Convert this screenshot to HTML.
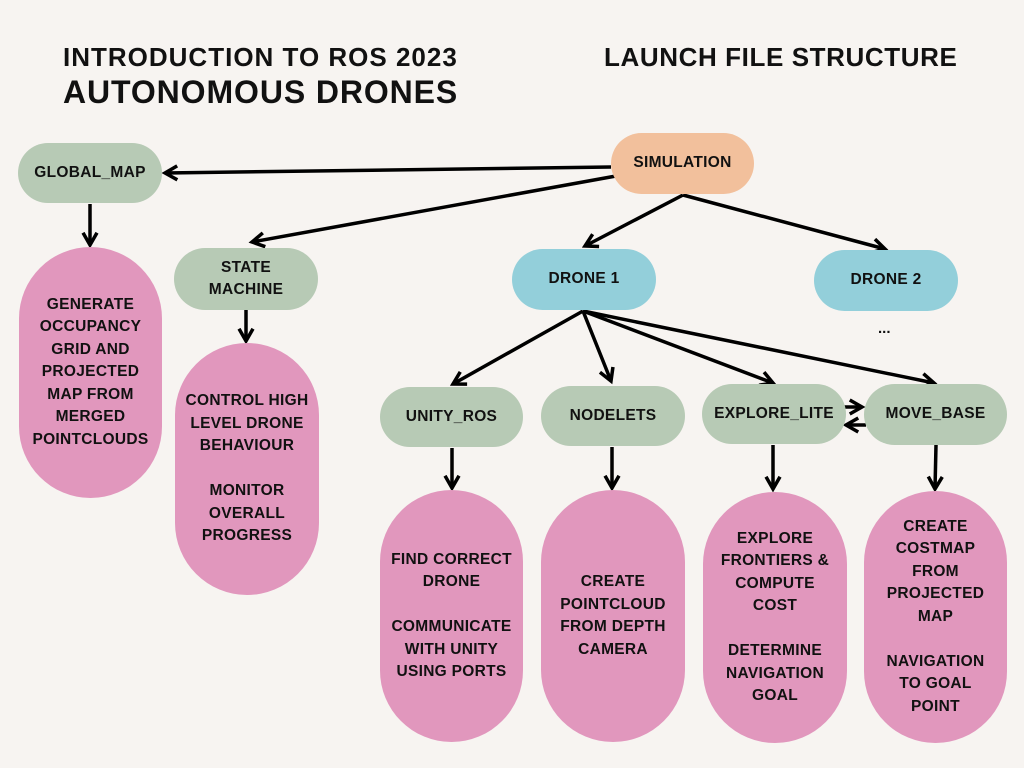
<!DOCTYPE html><html><head><style>
body{margin:0;width:1024px;height:768px;background:#f7f4f1;position:relative;overflow:hidden;font-family:"Liberation Sans",sans-serif;}
.n{position:absolute;display:flex;align-items:center;justify-content:center;text-align:center;font-weight:bold;font-size:15.5px;letter-spacing:0.3px;color:#111;line-height:22.5px;}
.g{background:#b7cab5;border-radius:31px;}
.p{background:#e197bd;border-radius:72px;}
.t{position:absolute;font-weight:bold;color:#111;white-space:nowrap;}
</style></head><body>
<div class="t" style="left:63px;top:42px;font-size:26px;letter-spacing:1px">INTRODUCTION TO ROS 2023</div>
<div class="t" style="left:63px;top:74px;font-size:32px;letter-spacing:0.9px">AUTONOMOUS DRONES</div>
<div class="t" style="left:604px;top:42px;font-size:26px;letter-spacing:0.6px">LAUNCH FILE STRUCTURE</div>
<svg width="1024" height="768" style="position:absolute;left:0;top:0">
<defs><marker id="a" viewBox="0 0 10 10" refX="8" refY="5" markerWidth="5" markerHeight="5" orient="auto"><path d="M1,1 L8,5 L1,9" fill="none" stroke="#000" stroke-width="2"/></marker></defs>
<g stroke="#000" stroke-width="3.5" fill="none" marker-end="url(#a)">
<line x1="611" y1="167" x2="165" y2="173"/>
<line x1="616" y1="176" x2="252" y2="242"/>
<line x1="683" y1="195" x2="585" y2="246"/>
<line x1="683" y1="195" x2="885" y2="249"/>
<line x1="583" y1="311" x2="453" y2="384"/>
<line x1="583" y1="311" x2="611" y2="381"/>
<line x1="583" y1="311" x2="773" y2="383"/>
<line x1="583" y1="311" x2="934" y2="383"/>
<line x1="90" y1="204" x2="90" y2="245"/>
<line x1="246" y1="310" x2="246" y2="341"/>
<line x1="452" y1="448" x2="452" y2="488"/>
<line x1="612" y1="447" x2="612" y2="488"/>
<line x1="773" y1="445" x2="773" y2="489"/>
<line x1="936" y1="445" x2="935" y2="489"/>
<line x1="844" y1="407" x2="862" y2="407"/>
<line x1="866" y1="425" x2="846" y2="425"/>
</g></svg>
<div class="n g" style="left:18px;top:143px;width:144px;height:60px">GLOBAL_MAP</div>
<div class="n" style="left:611px;top:133px;width:143px;height:61px;background:#f2c09c;border-radius:31px">SIMULATION</div>
<div class="n g" style="left:174px;top:248px;width:144px;height:62px">STATE<br>MACHINE</div>
<div class="n" style="left:512px;top:249px;width:144px;height:61px;background:#93cfda;border-radius:31px">DRONE 1</div>
<div class="n" style="left:814px;top:250px;width:144px;height:61px;background:#93cfda;border-radius:31px">DRONE 2</div>
<div class="t" style="left:878px;top:320px;font-size:15px">...</div>
<div class="n g" style="left:380px;top:387px;width:143px;height:60px">UNITY_ROS</div>
<div class="n g" style="left:541px;top:386px;width:144px;height:60px">NODELETS</div>
<div class="n g" style="left:702px;top:384px;width:144px;height:60px">EXPLORE_LITE</div>
<div class="n g" style="left:864px;top:384px;width:143px;height:61px">MOVE_BASE</div>
<div class="n p" style="left:19px;top:247px;width:143px;height:251px">GENERATE<br>OCCUPANCY<br>GRID AND<br>PROJECTED<br>MAP FROM<br>MERGED<br>POINTCLOUDS</div>
<div class="n p" style="left:175px;top:343px;width:144px;height:252px">CONTROL HIGH<br>LEVEL DRONE<br>BEHAVIOUR<br><br>MONITOR<br>OVERALL<br>PROGRESS</div>
<div class="n p" style="left:380px;top:490px;width:143px;height:252px">FIND CORRECT<br>DRONE<br><br>COMMUNICATE<br>WITH UNITY<br>USING PORTS</div>
<div class="n p" style="left:541px;top:490px;width:144px;height:252px">CREATE<br>POINTCLOUD<br>FROM DEPTH<br>CAMERA</div>
<div class="n p" style="left:703px;top:492px;width:144px;height:251px">EXPLORE<br>FRONTIERS &amp;<br>COMPUTE<br>COST<br><br>DETERMINE<br>NAVIGATION<br>GOAL</div>
<div class="n p" style="left:864px;top:491px;width:143px;height:252px">CREATE<br>COSTMAP<br>FROM<br>PROJECTED<br>MAP<br><br>NAVIGATION<br>TO GOAL<br>POINT</div>
</body></html>
